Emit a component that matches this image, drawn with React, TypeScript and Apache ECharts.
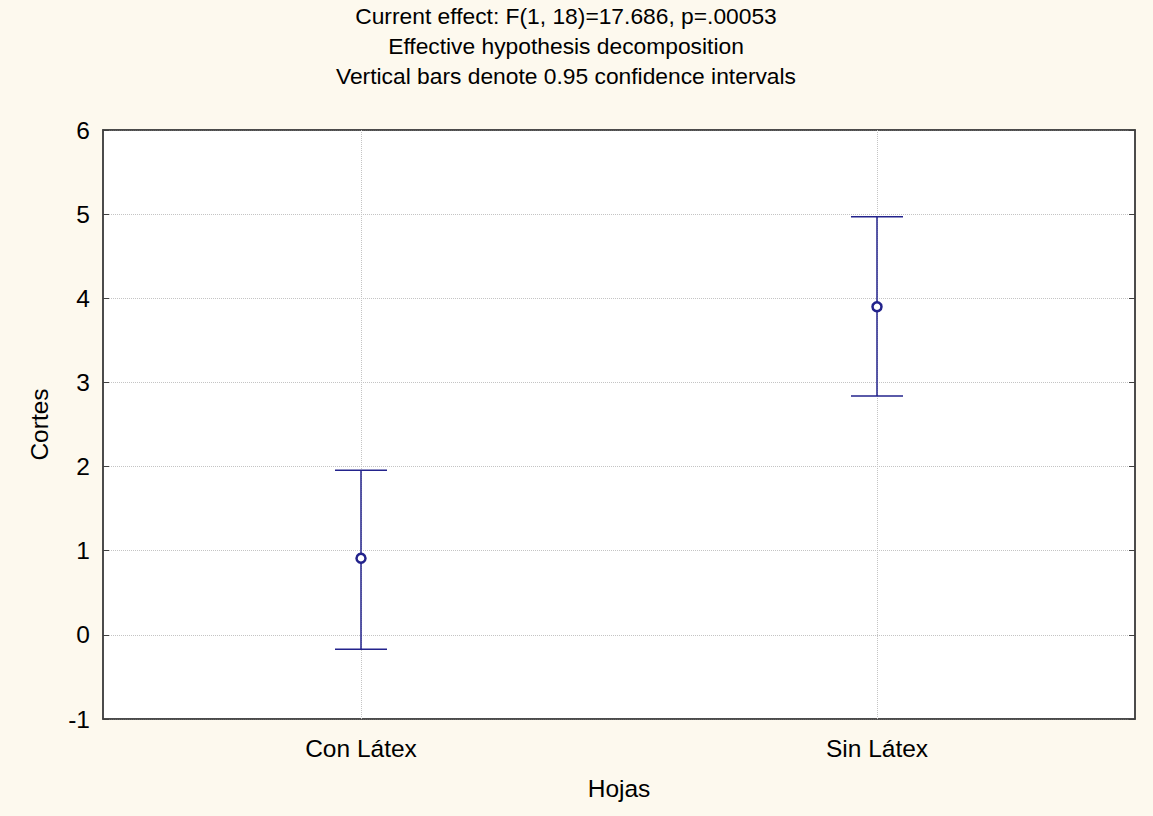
import { useEffect, useRef } from 'react';
import * as echarts from 'echarts';

const categories = ['Con Látex', 'Sin Látex'];
const means = [0.91, 3.9];
const lowerCI = [-0.17, 2.84];
const upperCI = [1.955, 4.97];
const titleLines = [
  'Current effect: F(1, 18)=17.686, p=.00053',
  'Effective hypothesis decomposition',
  'Vertical bars denote 0.95 confidence intervals',
];
const xName = 'Hojas';
const yName = 'Cortes';

export default function App() {
  const ref = useRef<HTMLDivElement>(null);
  useEffect(() => {
    const chart = echarts.init(ref.current!, null, { renderer: 'svg' });
    const font = '"Liberation Sans", Arial, sans-serif';
    const navy = '#23238c';
    const axisColor = '#404040';
    const gridColor = '#c4c4c4';
    const fs = 24.5;
    const tfs = 22.8;
    chart.setOption({
      animation: false,
      backgroundColor: '#fdf9ee',
      textStyle: { fontFamily: font },
      title: {
        text: titleLines.join('\n'),
        left: 566,
        top: 1,
        padding: 0,
        textAlign: 'center',
        textStyle: { fontSize: tfs, lineHeight: 30, fontWeight: 'normal', color: '#000', fontFamily: font },
      },
      grid: {
        left: 103, right: 18, top: 130, bottom: 97,
        show: true, backgroundColor: '#ffffff', borderColor: axisColor, borderWidth: 1.5,
      },
      xAxis: [
        {
          type: 'category',
          data: categories,
          position: 'bottom',
          axisLine: { onZero: false, lineStyle: { color: axisColor, width: 1.5 } },
          axisTick: { inside: true, alignWithLabel: true, length: 6, lineStyle: { color: axisColor } },
          axisLabel: { fontSize: fs, color: '#000', margin: 17, fontFamily: font },
          name: xName,
          nameLocation: 'middle',
          nameGap: 57,
          nameTextStyle: { fontSize: fs, color: '#000', fontFamily: font },
          splitLine: { show: false },
        },
        {
          type: 'category',
          data: categories,
          position: 'top',
          axisLine: { onZero: false, lineStyle: { color: axisColor, width: 1.5 } },
          axisTick: { inside: true, alignWithLabel: true, length: 6, lineStyle: { color: axisColor } },
          axisLabel: { show: false },
          splitLine: { show: false },
        },
      ],
      yAxis: [
        {
          type: 'value',
          min: -1, max: 6, interval: 1,
          position: 'left',
          axisLine: { show: true, onZero: false, lineStyle: { color: axisColor, width: 1.5 } },
          axisTick: { show: true, inside: true, length: 6, lineStyle: { color: axisColor } },
          axisLabel: { fontSize: fs, color: '#000', margin: 13, fontFamily: font },
          splitLine: { show: true, lineStyle: { type: 'dotted', color: gridColor, width: 1 } },
          name: yName,
          nameLocation: 'middle',
          nameGap: 51,
          nameRotate: 90,
          nameTextStyle: { fontSize: fs, color: '#000', fontFamily: font },
        },
        {
          type: 'value',
          min: -1, max: 6, interval: 1,
          position: 'right',
          axisLine: { show: true, onZero: false, lineStyle: { color: axisColor, width: 1.5 } },
          axisTick: { show: true, inside: true, length: 6, lineStyle: { color: axisColor } },
          axisLabel: { show: false },
          splitLine: { show: false },
        },
      ],
      series: [
        {
          type: 'custom',
          xAxisIndex: 0,
          yAxisIndex: 0,
          z: 3,
          data: categories.map((_, i) => [i, lowerCI[i], upperCI[i]]),
          encode: { x: 0, y: [1, 2] },
          renderItem: (_params: any, api: any) => {
            const x = api.value(0);
            const lo = api.coord([x, api.value(1)]);
            const hi = api.coord([x, api.value(2)]);
            const hw = 26;
            const style = { stroke: navy, lineWidth: 1.5 };
            return {
              type: 'group',
              children: [
                { type: 'line', shape: { x1: lo[0], y1: lo[1], x2: hi[0], y2: hi[1] }, style },
                { type: 'line', shape: { x1: lo[0] - hw, y1: lo[1], x2: lo[0] + hw, y2: lo[1] }, style },
                { type: 'line', shape: { x1: hi[0] - hw, y1: hi[1], x2: hi[0] + hw, y2: hi[1] }, style },
              ],
            };
          },
        },
        {
          type: 'scatter',
          xAxisIndex: 0,
          yAxisIndex: 0,
          z: 5,
          symbol: 'circle',
          symbolSize: 9,
          itemStyle: { color: '#ffffff', borderColor: navy, borderWidth: 2.5, opacity: 1 },
          data: categories.map((_, i) => [i, means[i]]),
          markLine: {
            silent: true,
            symbol: ['none', 'none'],
            label: { show: false },
            z: 1,
            lineStyle: { type: 'dotted', color: gridColor, width: 1 },
            data: categories.map((c) => ({ xAxis: c })),
          },
        },
      ],
    });
    return () => chart.dispose();
  }, []);
  return (
    <div
      ref={ref}
      style={{ position: 'fixed', left: 0, top: 0, width: 1153, height: 816 }}
    />
  );
}
